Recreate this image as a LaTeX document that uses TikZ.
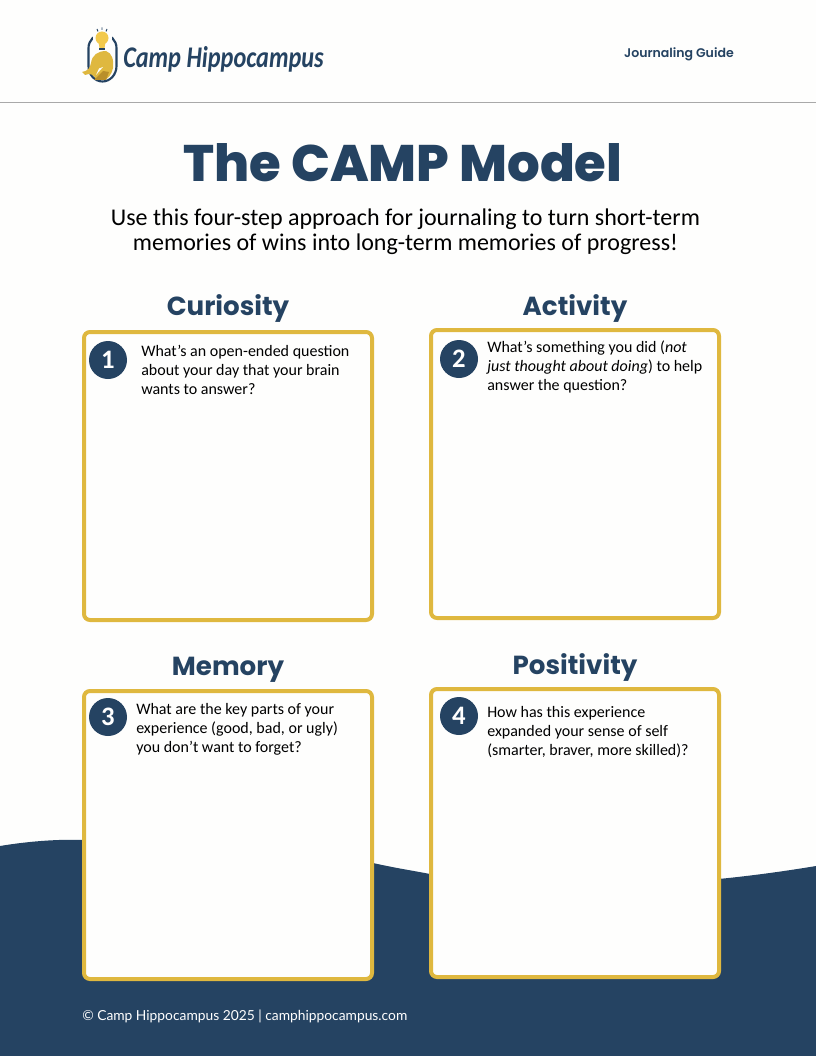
\documentclass[tikz,border=0pt]{standalone}
\usepackage{fontspec}
\setmainfont{Carlito}
\newfontfamily\headfont{Poppins}[UprightFont=* Bold]
\newfontfamily\guidefont{Poppins}[UprightFont=* SemiBold]
\newfontfamily\titlefont{Poppins}[UprightFont=* ExtraBold]
\newfontfamily\footfont{Lato}
\definecolor{navy}{HTML}{254362}
\definecolor{gold}{HTML}{DFB83F}
\definecolor{rulegray}{HTML}{A9A9A9}
\definecolor{paper}{HTML}{FEFEFD}
\definecolor{goldlight}{HTML}{F2C94C}
\definecolor{goldshade}{HTML}{B98F2A}
\tikzset{
  answerbox/.style={draw=gold,line width=3pt,rounded corners=4.5pt,fill=paper},
  badge/.style={circle,fill=navy,text=white,minimum size=28.5pt,inner sep=0pt,font=\bfseries\fontsize{20}{20}\selectfont},
  steptitle/.style={text=navy,font=\headfont\fontsize{19.6}{24}\selectfont,anchor=base},
  prompt/.style={anchor=north west,inner sep=0pt,align=left,text=black,font=\fontsize{12}{14.25}\selectfont},
}
\begin{document}
\begin{tikzpicture}[x=0.75pt,y=-0.75pt]
\useasboundingbox (0,0) rectangle (816,1056);
\fill[paper] (0,0) rectangle (816,1056);
% wave
\fill[navy] (0,846) .. controls (30,841) and (60,839) .. (85,840)
  .. controls (200,842) and (300,847) .. (373,863)
  .. controls (395,868) and (415,871) .. (430,874)
  .. controls (560,893) and (690,887) .. (816,866)
  -- (816,1056) -- (0,1056) -- cycle;
% header rule
\draw[rulegray,line width=0.75pt] (0,102) -- (816,102);
% logo
\draw[navy,line width=1.6pt] (88.5,48) arc (180:360:14 and 14) -- (116.5,66) arc (0:180:14 and 15.5) -- cycle;
\fill[paper] (93,30) rectangle (112,50);
\fill[goldlight] (102,38) circle (6.5);
\fill[goldlight] (98.5,42) -- (105.5,42) -- (104.5,48) -- (99.5,48) -- cycle;
\fill[navy] (99,48) rectangle (105,50);
\draw[navy,line width=0.7pt] (97,29) -- (98,31.5) (102,27.5) -- (102,30) (107,29) -- (106,31.5);
\fill[gold] (82,72) .. controls (88,71) and (90,68) .. (91,63) .. controls (92,55) and (98,51) .. (106,51)
  .. controls (112,53) and (114,60) .. (113,68) .. controls (112,74) and (108,79) .. (104,80)
  -- (96,79) .. controls (93,74) and (90,73) .. (85,75) -- cycle;
\fill[goldshade] (94,80) -- (103,71) -- (109,72) -- (106,80) -- cycle;
\fill[paper] (99,68.5) -- (103,67) -- (96,75) -- cycle;
\node[anchor=base west,inner sep=0pt,text=navy] (logotext) at (123,68)
  {\scalebox{0.81}[1]{\fontsize{22.5}{24}\selectfont\itshape\bfseries Camp Hippocampus}};
\node[anchor=base east,inner sep=0pt,text=navy] (guide) at (734,58)
  {\guidefont\fontsize{9.4}{12}\selectfont Journaling Guide};
% heading
\node[anchor=base,inner sep=0pt,text=navy] (title) at (403,181)
  {\titlefont\fontsize{38.5}{44}\selectfont The CAMP Model};
\node[anchor=base,inner sep=0pt,text=black] (sub1) at (405.5,225)
  {\fontsize{18}{22}\selectfont Use this four-step approach for journaling to turn short-term};
\node[anchor=base,inner sep=0pt,text=black] (sub2) at (405.5,250)
  {\fontsize{18}{22}\selectfont memories of wins into long-term memories of progress!};
% step titles
\node[steptitle] (t1) at (228,315) {Curiosity};
\node[steptitle] (t2) at (575,315) {Activity};
\node[steptitle] (t3) at (228,675) {Memory};
\node[steptitle] (t4) at (575,674) {Positivity};
% boxes
\draw[answerbox] (84,332) rectangle (372,620);
\draw[answerbox] (431,330) rectangle (719,618);
\draw[answerbox] (84,691) rectangle (372,979);
\draw[answerbox] (431,689) rectangle (719,977);
% badges
\node[badge] (b1) at (108,360) {1};
\node[badge] (b2) at (459,359) {2};
\node[badge] (b3) at (108,717) {3};
\node[badge] (b4) at (459,716) {4};
% prompts
\node[prompt] (p1) at (141,345) {What’s an open-ended question\\about your day that your brain\\wants to answer?};
\node[prompt] (p2) at (487,341) {What’s something you did (\textit{not}\\\textit{just thought about doing}) to help\\answer the question?};
\node[prompt] (p3) at (136,703) {What are the key parts of your\\experience (good, bad, or ugly)\\you don’t want to forget?};
\node[prompt] (p4) at (487,706) {How has this experience\\expanded your sense of self\\(smarter, braver, more skilled)?};
% footer
\node[anchor=base west,inner sep=0pt,text=white] (foot) at (82,1020)
  {\footfont\fontsize{10.35}{12}\selectfont © Camp Hippocampus 2025 | camphippocampus.com};
\end{tikzpicture}
\end{document}
